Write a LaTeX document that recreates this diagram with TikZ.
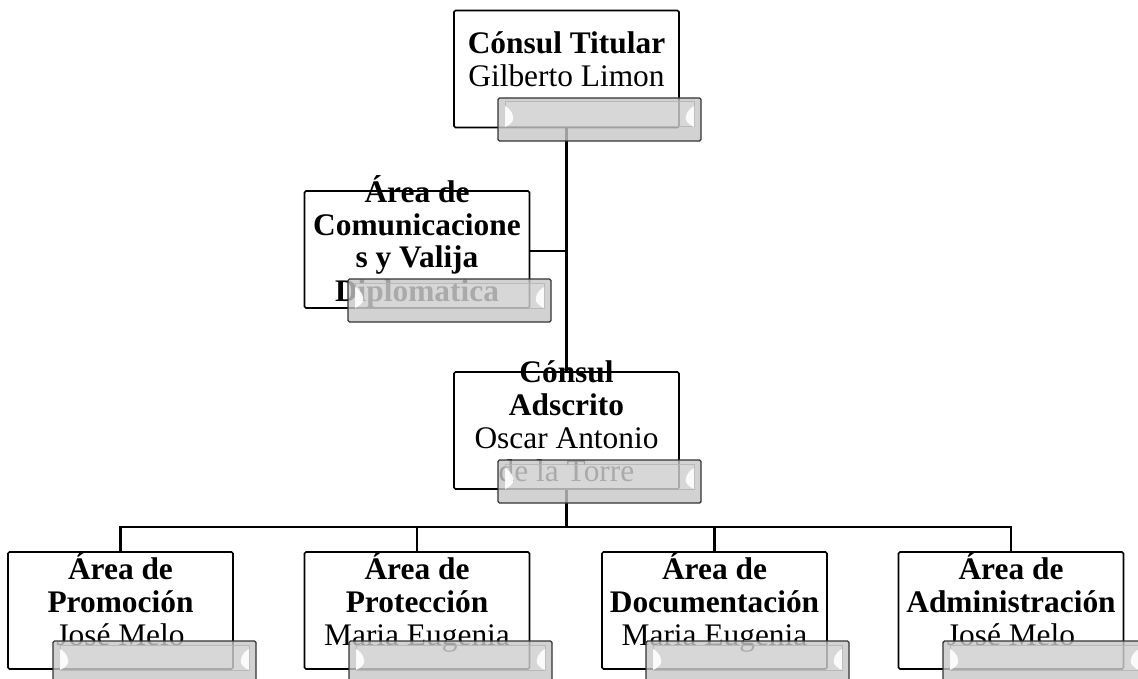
\documentclass[tikz,border=0pt]{standalone}
\usepackage{fontspec}
\setmainfont{Liberation Serif}
\begin{document}
\begin{tikzpicture}[x=1pt,y=-1pt,
  box/.style={draw=black, line width=1.6pt, fill=white, rounded corners=1.5pt, minimum width=225pt, minimum height=117pt, inner sep=0pt},
  txt/.style={align=center, anchor=base, inner sep=0pt, font=\fontsize{31.4pt}{33pt}\selectfont},
  conn/.style={draw=black, line width=2.2pt},
  bevel/.pic={
    \path[draw=black!80, line width=1.4pt, fill=bevelgray, fill opacity=0.8, rounded corners=1.5pt] (0,0) rectangle (203,43);
    \path[draw=black!30, draw opacity=0.8, line width=1pt, fill=white, fill opacity=0.12] (7,4) rectangle (196,29);
    \path[fill=white, fill opacity=0.9] (7,8) .. controls (14,12) and (16,18) .. (15,22) .. controls (14,25) and (11,27) .. (7,29) -- cycle;
    \path[fill=white, fill opacity=0.9] (196,8) .. controls (189,12) and (187,18) .. (188,22) .. controls (189,25) and (192,27) .. (196,29) -- cycle;
  }]
\definecolor{bevelgray}{gray}{0.78}
\useasboundingbox (0,0) rectangle (1138,679);
\clip (0,0) rectangle (1138,679);

% boxes
\node[box] (top) at (566.5,69) {};
\node[box] (comm) at (417,249.5) {};
\node[box] (adj) at (566.5,430.5) {};
\node[box] (b1) at (120.5,610.5) {};
\node[box] (b2) at (417,610.5) {};
\node[box] (b3) at (714.5,610.5) {};
\node[box] (b4) at (1011,610.5) {};

% connectors
\draw[conn] (top.south) -- (adj.north);
\coordinate (cj) at (566.5,251);
\draw[conn] (cj) -- (comm.east |- cj);
\coordinate (bus) at (566.5,527);
\draw[conn] (adj.south) -- (bus);
\draw[conn] (bus) -| (b1.north);
\draw[conn] (bus) -| (b2.north);
\draw[conn] (bus) -| (b3.north);
\draw[conn] (bus) -| (b4.north);

% texts (base = last line)
\node[txt] (ttop) at (566.5,87) {\textbf{Cónsul Titular}\\Gilberto Limon};
\node[txt] (tcomm) at (417,301) {\textbf{Área de}\\\textbf{Comunicacione}\\\textbf{s y Valija}\\\textbf{Diplomatica}};
\node[txt] (tadj) at (566.5,481) {\textbf{Cónsul}\\\textbf{Adscrito}\\Oscar Antonio\\de la Torre};
\node[txt] (tb1) at (120.5,645) {\textbf{Área de}\\\textbf{Promoción}\\José Melo};
\node[txt] (tb2) at (417,645) {\textbf{Área de}\\\textbf{Protección}\\Maria Eugenia};
\node[txt] (tb3) at (714.5,645) {\textbf{Área de}\\\textbf{Documentación}\\Maria Eugenia};
\node[txt] (tb4) at (1011,645) {\textbf{Área de}\\\textbf{Administración}\\José Melo};

% bevels
\pic (bv1) at (498,98) {bevel};
\pic (bv2) at (348,279) {bevel};
\pic (bv3) at (498,460) {bevel};
\pic (bv4) at (53,641) {bevel};
\pic (bv5) at (349,641) {bevel};
\pic (bv6) at (646,641) {bevel};
\pic (bv7) at (943,641) {bevel};
\end{tikzpicture}
\end{document}
